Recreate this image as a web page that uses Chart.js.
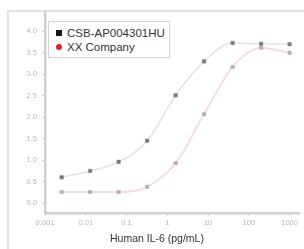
<!DOCTYPE html>
<html>
<head>
<meta charset="utf-8">
<script src="https://cdn.jsdelivr.net/npm/chart.js@4/dist/chart.umd.min.js"></script>
<style>
  html, body { margin: 0; padding: 0; background: #fff; }
  #wrap { position: relative; width: 304px; height: 249px; overflow: hidden; font-family: "Liberation Sans", Arial, sans-serif; }
  #frame { position: absolute; left: 7px; top: 10px; width: 320px; height: 260px; border-left: 2px solid #e2e2e2; border-top: 2px solid #e2e2e2; }
  #legend { position: absolute; left: 48px; top: 21px; width: 120px; height: 35px; border: 1px solid #d4d4d4; background: #fff; font-size: 11.5px; color: #333; }
  .row { position: absolute; left: 18px; line-height: 14px; }
  .sq { position: absolute; left: 7px; top: 8px; width: 6px; height: 6px; background: #151515; }
  .dot { position: absolute; left: 7px; top: 22px; width: 6px; height: 6px; border-radius: 50%; background: #e8202a; }
  #xtitle { position: absolute; left: 110px; top: 232px; font-size: 10.5px; color: #333; white-space: nowrap; }
  canvas { position: absolute; left: 0; top: 0; }
</style>
</head>
<body>
<div id="wrap">
  <div id="frame"></div>
  <canvas id="chart" width="304" height="249"></canvas>
  <div id="legend">
    <div class="sq"></div><div class="row" style="top:4px">CSB-AP004301HU</div>
    <div class="dot"></div><div class="row" style="top:18px">XX Company</div>
  </div>
  <div id="xtitle">Human IL-6 (pg/mL)</div>
</div>
<script>
// IL-6 concentrations (pg/mL), 5-fold dilution series
const concentrations = [0.00256, 0.0128, 0.064, 0.32, 1.6, 8, 40, 200, 1000]
const csbValues = [0.60, 0.75, 0.96, 1.45, 2.51, 3.30, 3.73, 3.71, 3.70]
const xxValues = [0.26, 0.26, 0.26, 0.38, 0.93, 2.07, 3.17, 3.62, 3.50]
const xTicks = [0.001, 0.01, 0.1, 1, 10, 100, 1000]
const yTicks = [0, 0.5, 1, 1.5, 2, 2.5, 3, 3.5, 4]

function toPoints(values) {
  return concentrations.map((c, i) => ({ x: c, y: values[i] }))
}

const ctx = document.getElementById("chart").getContext("2d")
new Chart(ctx, {
  type: "line",
  data: {
    datasets: [
      {
        label: "CSB-AP004301HU",
        data: toPoints(csbValues),
        borderColor: "#dde6e3",
        borderWidth: 1.5,
        cubicInterpolationMode: "monotone",
        pointStyle: "rect",
        pointRadius: 2.5,
        pointBackgroundColor: "#777",
        pointBorderColor: "#888",
        pointBorderWidth: 0.5,
      },
      {
        label: "XX Company",
        data: toPoints(xxValues),
        borderColor: "#f6dde5",
        borderWidth: 2,
        cubicInterpolationMode: "monotone",
        pointStyle: "rect",
        pointRadius: 2.5,
        pointBackgroundColor: "#b9a9af",
        pointBorderColor: "#c4b4ba",
        pointBorderWidth: 0.5,
      },
    ],
  },
  options: {
    responsive: false,
    animation: false,
    layout: { padding: { top: 12, right: 4, left: 0, bottom: 0 } },
    plugins: { legend: { display: false }, tooltip: { enabled: false } },
    scales: {
      x: {
        type: "logarithmic",
        min: 0.001,
        max: 1750,
        afterBuildTicks: (axis) => { axis.ticks = xTicks.map((v) => ({ value: v })) },
        afterFit: (axis) => { axis.height = 36 },
        grid: { display: true, drawOnChartArea: false, drawTicks: true, tickLength: 3, color: "#d0d0d0" },
        border: { color: "#cfcfcf", width: 2.5 },
        ticks: {
          color: "#b8b8b8",
          font: { size: 7.5, family: "Liberation Sans" },
          padding: 2,
          maxRotation: 0,
          callback: (v) => String(v),
        },
      },
      y: {
        min: -0.23,
        max: 4.45,
        afterBuildTicks: (axis) => { axis.ticks = yTicks.map((v) => ({ value: v })) },
        afterFit: (axis) => { axis.width = 45 },
        grid: { display: true, drawOnChartArea: false, drawTicks: true, tickLength: 3, color: "#d0d0d0" },
        border: { color: "#cfcfcf", width: 2.5 },
        ticks: {
          color: "#b8b8b8",
          font: { size: 7.5, family: "Liberation Sans" },
          padding: 5,
          callback: (v) => v.toFixed(1),
        },
      },
    },
  },
})
</script>
</body>
</html>
